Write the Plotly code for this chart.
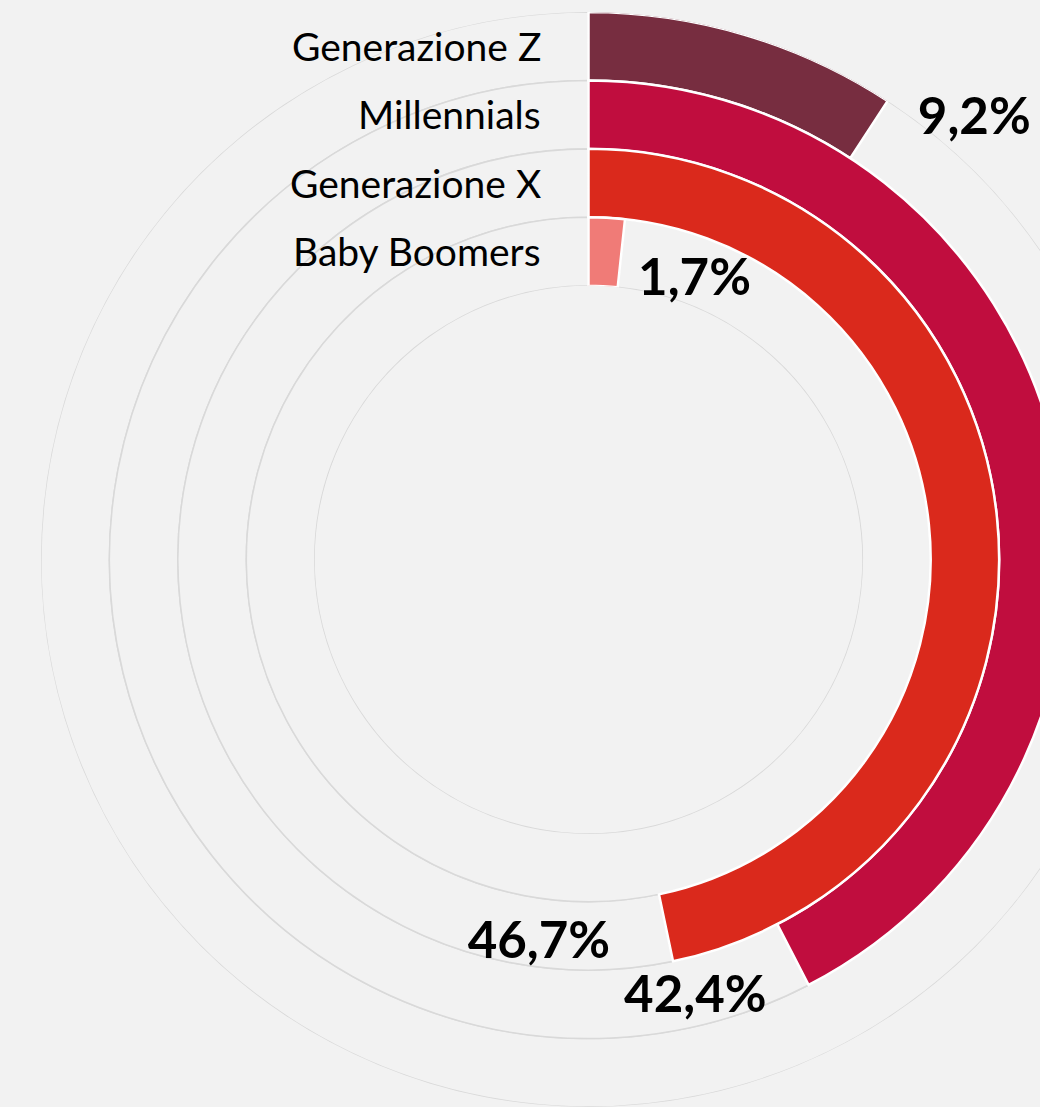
import plotly.graph_objects as go

# Share of each generation (percent of a full turn)
generations = ["Generazione Z", "Millennials", "Generazione X", "Baby Boomers"]
shares = [9.2, 42.4, 46.7, 1.7]
share_labels = ["9,2%", "42,4%", "46,7%", "1,7%"]

# Styling per ring (outermost first)
colors = ["#772d40", "#c00d3e", "#da291c", "#f07b77"]
ring_base = [7, 6, 5, 4]
# value label placement: radius, angular offset past the end of the arc, anchor
label_r = [7.71, 6.61, 5.69, 4.34]
label_dtheta = [5.5, 13.7, 19.2, 14.8]
label_pos = ["top right", "middle center", "middle center", "middle center"]
# category label vertical positions (paper coords)
cat_y = [0.969, 0.9068, 0.8438, 0.7817]

BG = "#f2f2f2"
GRID = "#d9d9d9"
DEG_PER_PCT = 3.6
FONT = "Lato, 'Open Sans', sans-serif"

fig = go.Figure()

# empty track behind each arc (remainder of the turn)
for name, v, b in zip(generations, shares, ring_base):
    start = v * DEG_PER_PCT
    span = 360 - start
    fig.add_trace(go.Barpolar(
        r=[1], base=[b], theta=[start + span / 2], width=[span],
        marker=dict(color=BG, line=dict(color=GRID, width=1.5)),
        hoverinfo="skip", showlegend=False,
    ))

# value arcs
for name, v, b, c in zip(generations, shares, ring_base, colors):
    span = v * DEG_PER_PCT
    fig.add_trace(go.Barpolar(
        r=[1], base=[b], theta=[span / 2], width=[span], name=name,
        marker=dict(color=c, line=dict(color="white", width=2.5)),
        showlegend=False,
    ))

# value labels just past the end of each arc
fig.add_trace(go.Scatterpolar(
    r=label_r,
    theta=[v * DEG_PER_PCT + d for v, d in zip(shares, label_dtheta)],
    mode="text", text=share_labels, textposition=label_pos,
    textfont=dict(family=FONT, size=51, color="#000000", weight="bold"),
    cliponaxis=False, showlegend=False, hoverinfo="skip",
))

for name, y in zip(generations, cat_y):
    fig.add_annotation(
        text=name, xref="paper", yref="paper", x=0.4585, y=y,
        xanchor="right", yanchor="middle", showarrow=False,
        font=dict(family=FONT, size=39, color="#000000"),
    )

fig.update_layout(
    width=1136, height=1107,
    margin=dict(l=41, r=0, t=12, b=0),
    paper_bgcolor=BG,
    plot_bgcolor=BG,
    bargap=0,
    polar=dict(
        bgcolor=BG,
        hole=0.5,
        domain=dict(x=[0, 1], y=[0, 1]),
        radialaxis=dict(range=[4, 8], showgrid=False, showline=False,
                        showticklabels=False, ticks=""),
        angularaxis=dict(rotation=90, direction="clockwise", showgrid=False,
                         showline=False, showticklabels=False, ticks=""),
    ),
)

fig.write_html(
    "out.html",
    post_script="document.documentElement.style.overflow='hidden';"
                "document.body.style.overflow='hidden';document.body.style.margin='0';",
)
